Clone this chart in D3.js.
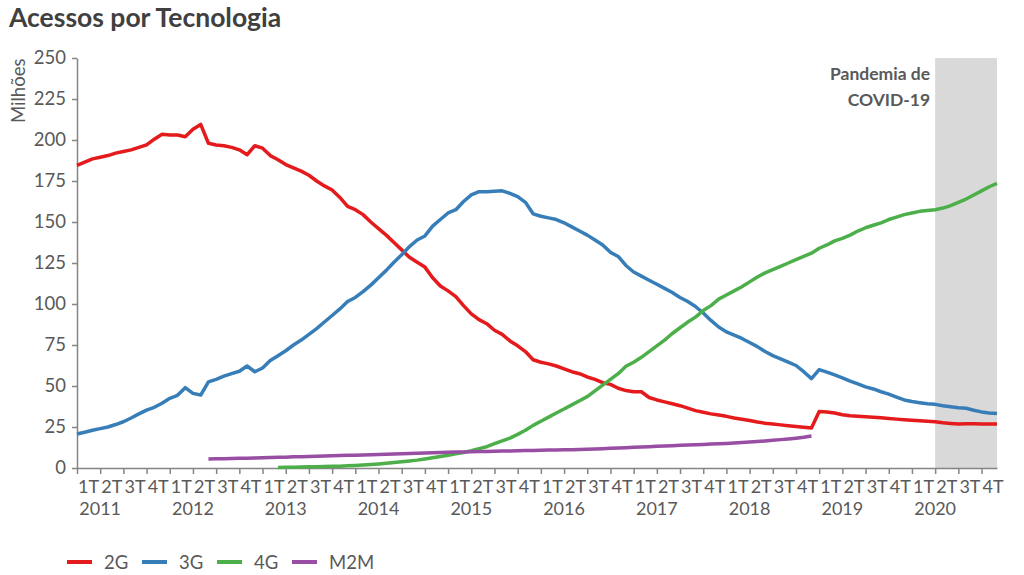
<!DOCTYPE html>
<html><head><meta charset="utf-8">
<script src="https://cdn.jsdelivr.net/npm/d3@7"></script>
<style>body{margin:0;background:#fff} svg{display:block}</style>
</head><body>
<svg id="c" width="1024" height="575"></svg>
<script>
const quarters = ["1T","2T","3T","4T"];
const years = [2011,2012,2013,2014,2015,2016,2017,2018,2019,2020];
const yTicks = [0,25,50,75,100,125,150,175,200,225,250];
const seriesNames = ["2G","3G","4G","M2M"];
const seriesColors = ["#e41a1c","#377eb8","#4daf4a","#984ea3"];
const pandemicLabel = ["Pandemia de","COVID-19"];
const pandemicStartMonth = 111; // abril 2020

// Monthly values, Jan 2011 - Dec 2020 (millions)
const s2G = [184.5,186.5,188.5,189.5,190.5,192,193,194,195.5,197,
200.5,203.5,203,203,202,206.5,209.5,198,197,196.5,
195.5,194,191,196.5,195,190.5,188,185,183,181,
178.5,175,172,169.5,165,159.5,157.5,154.5,150,146,
142,137.5,133,128.5,125.5,122.5,116,111,108,104.5,
99,94,90.5,88,84,81.5,77.5,74.5,71,66,
64.5,63.5,62.2,60.5,58.7,57.5,55.5,54,52,51,
48.6,47.2,46.5,46.5,43,41.5,40.3,39.2,38,36.5,
35,34,33,32.3,31.5,30.5,29.7,29,28,27.3,
26.8,26.3,25.8,25.3,24.8,24.4,34.5,34.2,33.5,32.5,
31.8,31.5,31.2,31,30.6,30.2,29.8,29.4,29.1,28.8,
28.5,28.2,27.6,27.2,26.9,27,27,26.9,26.8,26.8];

const s3G = [20.7,21.8,23,24,25,26.5,28.2,30.5,33,35.3,
37,39.5,42.5,44.3,49,45.5,44.5,52.5,54,56,
57.5,59,62.2,58.7,61,65.5,68.5,71.5,75,78,
81.5,85,89,93,97,101.5,104,107.5,111.5,116,
120.5,125.5,130,135,139,141.5,147.5,151.5,155.5,157.5,
162.5,166.5,168.5,168.5,168.7,169,167.5,165.5,162,155,
153.5,152.5,151.5,149.5,147,144.5,142,139,136,131.5,
129,123.5,119.5,117,114.5,112,109.5,107,104,101.5,
98.5,94.5,90,86,83,81,79,76.5,74,71,
68.5,66.5,64.5,62.5,58.7,54.5,60,58.5,56.8,55,
53,51.3,49.5,48.2,46.5,45,43.2,41.5,40.5,39.8,
39.2,38.8,38,37.4,36.8,36.4,35.2,34.2,33.6,33.2];

const s4G = [null,null,null,null,null,null,null,null,null,null,
null,null,null,null,null,null,null,null,null,null,
null,null,null,null,null,null,
0.3,0.4,0.5,0.6,0.7,0.8,0.9,1.0,1.1,1.3,
1.5,1.8,2.1,2.5,2.9,3.3,3.8,4.3,4.8,5.5,
6.2,7,7.8,8.6,9.5,10.5,11.8,13,14.8,16.5,
18.2,20.5,23,26,28.5,31,33.5,36,38.5,41,
43.5,47,50.5,54,57.5,62,64.5,67.5,71,74.5,
78,82,85.5,89,92,96,99,103,105.5,108,
110.5,113.5,116.5,119,121,123,125,127,129,131,
134,136,138.5,140,142,144.5,146.5,148,149.5,151.5,
153,154.5,155.5,156.5,157,157.5,158.5,160,162,164,
166.5,169,171.5,173.5];

const sM2M = [null,null,null,null,null,null,null,null,null,null,
null,null,null,null,null,null,null,
5.5,5.6,5.7,5.8,5.9,6.0,6.1,
6.3,6.4,6.5,6.6,6.8,6.9,7.0,7.2,7.3,7.4,
7.6,7.7,7.8,8.0,8.1,8.3,8.4,8.5,8.7,8.8,
9.0,9.1,9.3,9.4,9.6,9.7,9.8,9.9,10.0,10.1,
10.2,10.3,10.4,10.5,10.6,10.7,10.8,10.9,11.0,11.1,
11.2,11.3,11.5,11.6,11.8,12.0,12.2,12.4,12.6,12.8,
13.0,13.2,13.4,13.6,13.8,14.0,14.2,14.4,14.6,14.8,
15.0,15.3,15.6,15.9,16.2,16.5,16.9,17.3,17.7,18.2,
18.7,19.5,
null,null,null,null,null,null,null,null,null,null,
null,null,null,null,null,null,null,null,null,null,
null,null,null,null];

const allSeries = [s2G, s3G, s4G, sM2M];

const svg = d3.select("#c");
const font = "Lato, 'Open Sans', sans-serif";
const textCol = "#595959";
const axisCol = "#858585";
const n = s2G.length;

const x = d3.scaleLinear().domain([0, n - 1]).range([77, 997]);
const y = d3.scaleLinear().domain([0, 250]).range([468, 58]);

// pandemic band
svg.append("rect")
  .attr("x", x(pandemicStartMonth)).attr("y", y(250))
  .attr("width", x(n - 1) - x(pandemicStartMonth))
  .attr("height", y(0) - y(250))
  .attr("fill", "#d9d9d9");

svg.append("g").selectAll("text").data(pandemicLabel).join("text")
  .attr("x", x(pandemicStartMonth) - 5)
  .attr("y", (d, i) => 80 + i * 26)
  .attr("text-anchor", "end")
  .attr("font-family", font).attr("font-weight", "bold").attr("font-size", 17.5)
  .attr("fill", textCol)
  .text(d => d);

// title
svg.append("text").attr("x", 9).attr("y", 27)
  .attr("font-family", font).attr("font-weight", "bold").attr("font-size", 26.5)
  .attr("fill", "#404040").text("Acessos por Tecnologia");

// y axis
const yAxis = svg.append("g").attr("transform", `translate(${x(0)},0)`)
  .call(d3.axisLeft(y).tickValues(yTicks).tickSize(5).tickSizeOuter(0).tickPadding(6));
yAxis.selectAll("path,line").attr("stroke", axisCol).attr("stroke-width", 1.5);
yAxis.selectAll("text").attr("font-family", font).attr("font-size", 18.5).attr("fill", textCol);

svg.append("text")
  .attr("transform", `translate(25,${(y(250) + y(210)) / 2}) rotate(-90)`)
  .attr("text-anchor", "middle")
  .attr("font-family", font).attr("font-size", 18.5).attr("fill", textCol)
  .text("Milhões");

// x axis
const quarterStarts = d3.range(0, n, 3);
const xAxis = svg.append("g").attr("transform", `translate(0,${y(0)})`)
  .call(d3.axisBottom(x).tickValues(quarterStarts).tickSize(6).tickSizeOuter(0).tickFormat(""));
xAxis.selectAll("path,line").attr("stroke", axisCol).attr("stroke-width", 1.5);

svg.append("g").selectAll("text").data(quarterStarts).join("text")
  .attr("x", d => x(d + 1.5)).attr("y", 493)
  .attr("text-anchor", "middle")
  .attr("font-family", font).attr("font-size", 18).attr("fill", textCol)
  .text((d, i) => quarters[i % 4]);

svg.append("g").selectAll("text").data(years).join("text")
  .attr("x", (d, i) => x(i * 12 + 3)).attr("y", 515)
  .attr("text-anchor", "middle")
  .attr("font-family", font).attr("font-size", 18).attr("fill", textCol)
  .text(d => d);

// lines
const line = d3.line().defined(d => d != null).x((d, i) => x(i)).y(d => y(d));
svg.append("g").selectAll("path").data(allSeries).join("path")
  .attr("d", d => line(d))
  .attr("fill", "none")
  .attr("stroke", (d, i) => seriesColors[i])
  .attr("stroke-width", 3.5)
  .attr("stroke-linejoin", "round");

// legend
const lg = svg.append("g").selectAll("g").data(seriesNames).join("g")
  .attr("transform", (d, i) => `translate(${67 + i * 75},562)`);
lg.append("line").attr("x1", 0).attr("x2", 25).attr("y1", 0).attr("y2", 0)
  .attr("stroke", (d, i) => seriesColors[i]).attr("stroke-width", 4);
lg.append("text").attr("x", 37).attr("y", 6.5)
  .attr("font-family", font).attr("font-size", 18.5).attr("fill", textCol)
  .text(d => d);
</script>
</body></html>
